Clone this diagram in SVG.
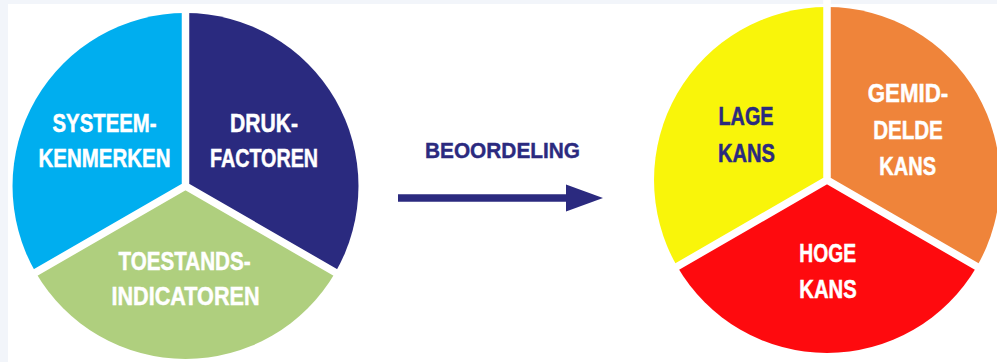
<svg xmlns="http://www.w3.org/2000/svg" width="997" height="362" viewBox="0 0 997 362">
  <style>
    .sep { stroke: #ffffff; stroke-width: 7.5; stroke-linecap: butt; fill: none; }
    .lbl { font-family: "Liberation Sans", Arial, sans-serif; font-weight: bold; font-size: 25.5px; text-anchor: middle; fill: #ffffff; stroke: #ffffff; stroke-width: 0.5; }
    .dark { fill: #2b2a7f; stroke: #2b2a7f; }
    .title { font-family: "Liberation Sans", Arial, sans-serif; font-weight: bold; font-size: 22px; text-anchor: middle; fill: #2b2a7f; stroke: #2b2a7f; stroke-width: 0.4; }
  </style>
  <defs>
    <marker id="head" markerUnits="userSpaceOnUse" markerWidth="37" markerHeight="28" viewBox="0 0 37 28" refX="1" refY="14" orient="auto">
      <polygon points="0,0.5 37,14 0,27.5" fill="#2b2a7f"/>
    </marker>
  </defs>
  <rect x="0" y="0" width="997" height="362" fill="#f2f5fa"/>
  <rect x="8" y="4" width="989" height="358" fill="#ffffff"/>

  <g id="pie-left">
    <g id="systeemkenmerken">
      <path d="M185.5 186 L185.5 13 A173 173 0 0 0 35.7 272.5 Z" fill="#00aeef"/>
      <text class="lbl" x="104.5" y="131.5" textLength="104" lengthAdjust="spacingAndGlyphs">SYSTEEM-</text>
      <text class="lbl" x="104.5" y="166.5" textLength="132" lengthAdjust="spacingAndGlyphs">KENMERKEN</text>
    </g>
    <g id="drukfactoren">
      <path d="M185.5 186 L185.5 13 A173 173 0 0 1 335.3 272.5 Z" fill="#2a2a7f"/>
      <text class="lbl" x="264" y="131.5" textLength="68" lengthAdjust="spacingAndGlyphs">DRUK-</text>
      <text class="lbl" x="264" y="166.5" textLength="108" lengthAdjust="spacingAndGlyphs">FACTOREN</text>
    </g>
    <g id="toestandsindicatoren">
      <path d="M185.5 186 L335.3 272.5 A173 173 0 0 1 35.7 272.5 Z" fill="#afcf7e"/>
      <text class="lbl" x="184.5" y="270" textLength="132" lengthAdjust="spacingAndGlyphs">TOESTANDS-</text>
      <text class="lbl" x="185.5" y="305" textLength="148" lengthAdjust="spacingAndGlyphs">INDICATOREN</text>
    </g>
    <path class="sep" d="M185.5 186 L185.5 5 M185.5 186 L345 278 M185.5 186 L26 278"/>
  </g>

  <g id="connectors">
    <g id="beoordeling">
      <path d="M398 198 H567" stroke="#2b2a7f" stroke-width="7.5" fill="none" marker-end="url(#head)"/>
      <text class="title" x="502.5" y="157.7" textLength="155" lengthAdjust="spacingAndGlyphs">BEOORDELING</text>
    </g>
  </g>

  <g id="pie-right">
    <g id="lage-kans">
      <path d="M827 180 L827 7 A173 173 0 0 0 677.2 266.5 Z" fill="#f9f50a"/>
      <text class="lbl dark" x="746" y="125" textLength="55" lengthAdjust="spacingAndGlyphs">LAGE</text>
      <text class="lbl dark" x="746.5" y="161.5" textLength="57" lengthAdjust="spacingAndGlyphs">KANS</text>
    </g>
    <g id="gemiddelde-kans">
      <path d="M827 180 L827 7 A173 173 0 0 1 976.8 266.5 Z" fill="#ef843a"/>
      <text class="lbl" x="908" y="101.7" textLength="80.6" lengthAdjust="spacingAndGlyphs">GEMID-</text>
      <text class="lbl" x="908" y="139" textLength="69.7" lengthAdjust="spacingAndGlyphs">DELDE</text>
      <text class="lbl" x="907.7" y="175" textLength="56.7" lengthAdjust="spacingAndGlyphs">KANS</text>
    </g>
    <g id="hoge-kans">
      <path d="M827 180 L976.8 266.5 A173 173 0 0 1 677.2 266.5 Z" fill="#fe0a0e"/>
      <text class="lbl" x="827.7" y="262.3" textLength="56.7" lengthAdjust="spacingAndGlyphs">HOGE</text>
      <text class="lbl" x="828" y="298.3" textLength="57.4" lengthAdjust="spacingAndGlyphs">KANS</text>
    </g>
    <path class="sep" d="M827 180 L827 0 M827 180 L988 273 M827 180 L666 273"/>
  </g>
</svg>
